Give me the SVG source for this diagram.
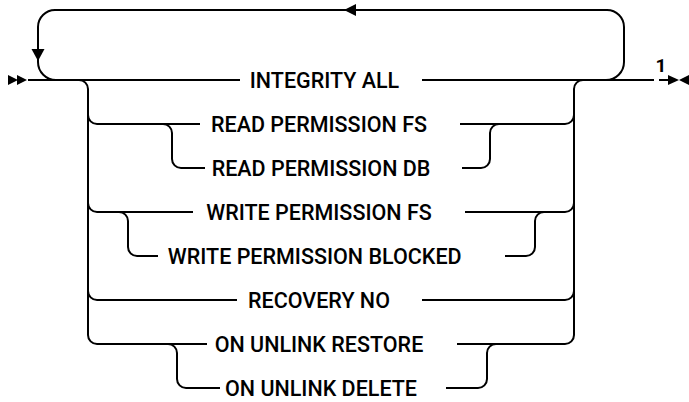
<svg xmlns="http://www.w3.org/2000/svg" width="689" height="402" viewBox="0 0 689 402">
<style>
.ln{fill:none;stroke:#000;stroke-width:2}
.ah{fill:#000;stroke:none}
.lbl{font-family:Roboto,"Liberation Sans",Arial,sans-serif;font-size:21.5px;font-weight:500;fill:#000;text-anchor:middle}
.fn{font-family:Roboto,"Liberation Sans",Arial,sans-serif;font-size:19px;font-weight:bold;fill:#000;text-anchor:middle}
</style>
<rect width="689" height="402" fill="#fff"/>
<g id="connectors">
<path class="ln" d="M28,80 H240 M422,80 H654 M659,80 H670"/>
<polygon class="ah" points="8,75 18,80 8,85"/>
<polygon class="ah" points="17,75 27,80 17,85"/>
<polygon class="ah" points="668,75 679,80 668,85"/>
<polygon class="ah" points="689,75 679,80 689,85"/>
<path class="ln" d="M56,80 A18,18 0 0 1 38,62 V27 A17,17 0 0 1 55,10 H607 A17,17 0 0 1 624,27 V62 A18,18 0 0 1 606,80"/>
<polygon class="ah" points="31.5,49 44.5,49 38,61"/>
<polygon class="ah" points="344,10 356,4 356,16"/>
<path class="ln" d="M79,80 A9,9 0 0 1 88,89 V335 A9,9 0 0 0 97,344 H207"/>
<path class="ln" d="M457,344 H565 A9,9 0 0 0 574,335 V89 A9,9 0 0 1 583,80"/>
<path class="ln" d="M88,115 A9,9 0 0 0 97,124 H200 M460,124 H565 A9,9 0 0 0 574,115"/>
<path class="ln" d="M163,124 A9,9 0 0 1 172,133 V159 A9,9 0 0 0 181,168 H205 M462,168 H481 A9,9 0 0 0 490,159 V133 A9,9 0 0 1 499,124"/>
<path class="ln" d="M88,203 A9,9 0 0 0 97,212 H193 M465,212 H565 A9,9 0 0 0 574,203"/>
<path class="ln" d="M119,212 A9,9 0 0 1 128,221 V247 A9,9 0 0 0 137,256 H158 M505,256 H526 A9,9 0 0 0 535,247 V221 A9,9 0 0 1 544,212"/>
<path class="ln" d="M88,291 A9,9 0 0 0 97,300 H237 M422,300 H565 A9,9 0 0 0 574,291"/>
<path class="ln" d="M168,344 A9,9 0 0 1 177,353 V379 A9,9 0 0 0 186,388 H220 M446,388 H478 A9,9 0 0 0 487,379 V353 A9,9 0 0 1 496,344"/>
</g>
<g id="n_integrity"><text class="lbl" x="324.5" y="87.5">INTEGRITY ALL</text></g>
<g id="n_read_fs"><text class="lbl" x="319" y="131.5">READ PERMISSION FS</text></g>
<g id="n_read_db"><text class="lbl" x="321" y="175.5">READ PERMISSION DB</text></g>
<g id="n_write_fs"><text class="lbl" x="319" y="219.5">WRITE PERMISSION FS</text></g>
<g id="n_write_blocked"><text class="lbl" x="314.7" y="263.5">WRITE PERMISSION BLOCKED</text></g>
<g id="n_recovery"><text class="lbl" x="319" y="307.5">RECOVERY NO</text></g>
<g id="n_unlink_restore"><text class="lbl" x="319" y="351.5">ON UNLINK RESTORE</text></g>
<g id="n_unlink_delete"><text class="lbl" x="321" y="395.5">ON UNLINK DELETE</text></g>
<g id="n_footnote"><text class="fn" x="661" y="72">1</text></g>
</svg>
